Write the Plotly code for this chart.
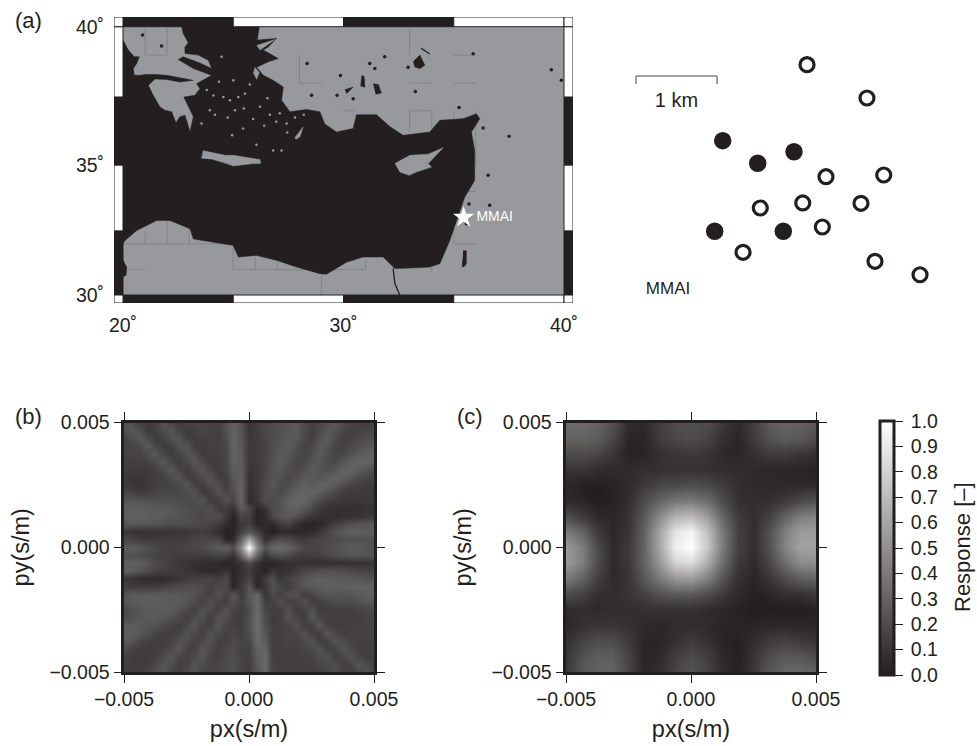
import math
import numpy as np
import plotly.graph_objects as go

INK = "#231f20"
LAND = "#98999c"
FONT = "Liberation Sans"

# ---------- map data (degrees) ----------
sea_lon = [20.00,20.24,20.51,20.74,20.62,20.47,20.51,20.77,21.00,21.45,21.98,22.58,23.19,22.58,21.98,21.45,21.15,21.37,21.68,21.90,22.21,22.40,22.58,22.81,23.04,23.19,22.92,22.76,23.26,23.49,23.34,24.02,23.19,22.51,22.73,23.49,24.02,23.87,23.41,22.81,22.81,22.96,22.73,22.66,26.18,26.09,26.96,26.59,26.36,27.04,26.59,26.06,26.36,26.81,27.27,27.19,27.57,28.32,28.93,29.15,29.68,30.44,30.59,31.50,32.10,32.70,33.91,34.37,35.42,36.03,36.18,35.80,35.95,35.95,35.50,35.05,34.82,34.37,33.91,33.01,32.33,31.80,30.89,30.14,29.23,28.93,27.87,26.96,26.06,25.23,25.00,23.19,23.04,22.13,21.53,20.62,20.09,20.00]
sea_lat = [39.53,39.18,38.94,38.94,38.70,38.52,38.28,38.28,38.31,38.31,38.28,38.19,38.10,38.04,38.13,38.15,37.92,37.56,37.14,37.02,36.96,36.56,36.78,36.84,36.23,36.78,37.26,37.50,37.56,37.80,37.98,38.28,38.52,38.84,38.94,38.72,38.52,38.82,39.00,39.06,39.29,39.44,39.76,40.00,40.00,39.53,39.59,39.29,39.18,38.88,38.76,38.57,38.28,38.10,37.86,37.38,36.96,37.05,36.96,36.52,36.22,36.35,36.85,36.85,36.42,36.10,36.22,36.65,36.71,36.89,36.71,36.22,35.54,34.42,33.79,32.64,32.13,31.23,31.10,31.06,31.04,31.49,31.49,31.29,30.82,30.84,31.10,31.36,31.55,31.49,31.94,32.19,32.58,32.90,32.90,32.51,32.13,32.00]

crete_lon = [23.56,23.64,24.62,25.00,26.21,26.24,25.91,25.00,24.70,24.09]
crete_lat = [35.24,35.53,35.36,35.36,35.20,35.05,35.05,34.96,35.05,35.20]
cyprus_lon = [32.33,33.01,33.84,34.52,33.84,33.99,33.31,32.98,32.55]
cyprus_lat = [35.05,35.36,35.40,35.64,35.05,34.92,34.74,34.61,34.74]
rhodes_lon = [27.79,28.17,28.02,27.84]
rhodes_lat = [36.01,36.41,36.04,35.95]
lesbos_lon = [25.98,26.18,26.06,25.91]
lesbos_lat = [38.57,38.38,38.14,38.38]
north_isle_lon = [26.06,26.89,26.51,26.21]
north_isle_lat = [39.34,39.55,39.34,39.18]

speck_lon = [25.48,25.08,24.55,24.85,24.47,25.45,24.17,26.66,27.11,26.81,27.19,25.23,27.42,23.94,23.56,26.21,25.53,24.10,24.75,25.90,26.40,26.95,27.45,27.80,28.20,25.00,25.75,26.55,24.35,23.80,24.95,26.05]
speck_lat = [37.08,37.02,37.50,37.38,38.94,36.35,36.85,36.85,36.91,35.54,35.54,37.50,36.53,37.02,36.53,37.15,37.62,37.55,36.75,36.70,36.45,36.60,36.20,36.75,36.85,38.10,37.95,37.45,38.05,37.75,36.10,35.75]

tuz_lon = [33.16,33.46,33.69,33.46,33.23]
tuz_lat = [38.76,39.00,38.64,38.52,38.58]
lake2_lon = [31.34,31.58,31.72,31.46]
lake2_lat = [37.98,37.95,37.64,37.60]
lake3_lon = [30.82,30.94,30.97,30.77]
lake3_lat = [38.27,38.24,37.85,37.90]
lake4_lon = [30.06,30.44,30.14]
lake4_lat = [37.76,37.86,37.62]
dead_lon = [35.42,35.57,35.57,35.45,35.38,35.42]
dead_lat = [31.73,31.73,31.22,31.10,31.12,31.49]
bump_lon = [20.00,20.17,20.14,20.00]
bump_lat = [31.36,31.10,30.78,30.72]

dot_lon = [21.75,20.89,28.35,29.86,31.19,31.42,31.87,35.88,39.43,39.88,35.24,36.33,37.51,36.56,36.63,35.69,35.57,33.26,28.55,30.44,29.71,32.93]
dot_lat = [39.32,39.71,38.70,38.27,38.70,38.52,38.94,39.05,38.48,38.10,37.12,36.37,36.07,34.61,33.48,33.53,32.77,37.70,37.56,37.44,37.56,38.57]

nile_lon = [32.25,32.33,32.55]
nile_lat = [31.04,30.45,30.00]
streak_lon = [33.52,33.91]
streak_lat = [39.24,39.04]

grid_segments = [
    (21,21,39,40),(22,22,39,40),(21,22,39,39),(33,33,39,40),(35,36,39,39),
    (28,28,38,39),(28,29,38,38),(33,34,38,38),(35,36,38,38),
    (30,30.6,37,37),(33,34,37,37),(33,33,36.2,37),(34,34,36.4,37),(35,35,36.7,37),(36,36,35,37),
    (35.6,36,34,34),(20,25,32,32),(35,36,32,32),(35,35,32,32.6),
    (21,21,32,32.5),(22,22,32,32.9),(23,23,32,32.6),(20.2,21,31,31),
    (25,25,31,32),(26,26,31,31.5),(27,27,31,31.3),(29,29,30,30.8),(31,31,31,31.4),(34,34,30.9,31.1),
    (25,31,31,31),
]

star_lon = [35.45]
star_lat = [33.02]
station_label = ["MMAI"]
label_lon = [36.03]
label_lat = [33.00]

lon_ticks = [20, 30, 40]
lat_ticks = [30, 35, 40]
lon_bars = [20, 25, 30, 35, 40]
lat_bars = [30, 32.5, 35, 37.5, 40]

# ---------- station array (km) ----------
open_x = [2.309,3.049,2.543,3.256,2.256,2.975,1.732,2.498,1.519,3.148,3.704]
open_y = [2.905,2.494,1.522,1.543,1.198,1.194,1.136,0.901,0.589,0.478,0.312]
solid_x = [1.268,2.148,1.700,1.169,2.016]
solid_y = [1.967,1.831,1.688,0.848,0.848]
scale_x = [0.198,0.198,1.198,1.198]
scale_y = [2.667,2.765,2.765,2.667]

# ---------- array responses (percent, top row first) ----------
slow_ticks = [-0.005, 0.0, 0.005]
slow_labels = ["\u22120.005", "0.000", "0.005"]

resp_b = [
[24,20,14,13,15,23,18,14,16,17,17,15,15,22,30,22,10,14,18,20,22,25,27,20,14,17,22,26,20,15,15,15,15],
[20,26,20,13,14,20,24,16,13,15,17,16,15,21,30,23,10,14,18,20,22,24,26,19,14,19,25,23,16,15,16,17,18],
[17,20,26,19,13,15,22,23,15,13,15,16,14,20,30,24,11,13,17,20,23,25,25,18,15,22,26,20,15,16,18,20,22],
[16,16,20,26,18,13,15,23,22,14,13,15,15,19,31,25,11,13,16,20,24,26,22,16,18,25,24,17,15,18,21,24,25],
[16,16,16,20,26,17,13,16,24,21,13,14,15,18,30,26,11,13,16,21,25,25,19,16,21,26,21,16,18,22,26,28,30],
[15,14,15,15,20,25,17,13,18,24,19,13,14,17,29,27,11,13,16,22,26,22,17,18,24,25,19,19,24,28,30,30,28],
[14,12,12,13,15,20,25,17,13,19,24,17,13,16,27,27,10,12,17,23,25,20,17,22,26,23,20,24,29,30,28,24,20],
[12,10,10,12,14,15,19,25,16,13,20,23,15,14,25,28,9,12,18,24,22,18,21,26,25,24,27,30,28,24,20,17,15],
[13,10,9,11,14,16,16,19,24,15,13,21,22,13,23,30,8,12,20,24,20,20,25,28,27,30,30,26,20,16,14,13,13],
[18,16,14,15,16,18,18,17,20,23,14,13,22,19,20,31,7,12,21,22,19,24,29,30,31,28,22,18,14,13,12,12,12],
[24,24,23,22,21,22,22,20,18,20,23,14,14,21,17,32,6,11,22,19,23,29,31,30,25,19,14,12,11,11,11,12,12],
[27,28,28,27,26,26,25,23,21,18,20,22,13,13,8,26,18,4,9,20,22,28,29,25,18,12,9,8,8,8,8,9,9],
[28,29,29,28,27,26,24,23,22,20,18,20,21,12,3,16,14,2,6,17,24,26,22,15,10,8,7,7,8,9,10,11,12],
[25,25,25,24,23,22,21,21,20,19,19,17,13,7,2,12,14,3,6,5,13,17,8,4,3,4,8,14,18,21,23,24,24],
[11,9,8,8,9,9,9,10,11,12,14,12,7,1,3,15,24,15,4,1,4,5,4,4,6,10,16,22,26,28,28,27,26],
[18,16,14,13,13,13,14,14,15,17,18,18,18,4,5,32,62,32,7,16,22,20,14,13,16,17,18,20,21,22,22,22,20],
[27,27,25,22,18,15,15,15,17,18,19,23,27,29,22,46,100,46,24,32,33,30,24,18,17,17,20,22,24,26,26,24,20],
[22,22,20,18,16,15,15,14,14,14,13,14,16,15,8,30,60,30,8,18,21,18,14,13,14,15,17,20,22,24,24,23,21],
[28,28,27,24,20,17,14,11,9,8,7,6,6,2,6,9,20,8,4,2,6,8,8,8,7,7,7,7,7,7,8,9,10],
[28,27,24,20,16,14,13,12,10,8,6,5,6,10,3,8,12,6,2,10,8,8,12,17,19,21,22,22,21,19,17,16,15],
[12,9,6,5,5,6,8,11,13,15,16,17,14,20,4,9,18,4,14,22,10,16,20,24,27,28,28,27,26,25,24,23,22],
[15,14,13,13,14,16,17,19,20,21,20,15,19,18,3,13,24,5,10,21,18,13,20,24,26,27,28,28,28,29,30,29,28],
[24,26,26,26,26,26,26,25,24,22,18,15,22,16,24,12,24,32,10,19,15,21,22,14,17,22,24,24,23,24,26,28,28],
[24,26,27,28,28,27,26,26,24,20,15,22,16,14,23,15,24,32,14,15,21,15,16,22,13,15,17,20,20,20,22,24,24],
[19,22,24,26,27,28,26,23,19,15,22,19,14,24,17,13,20,33,17,14,15,22,14,15,23,13,14,15,15,15,16,17,18],
[20,22,24,26,26,24,22,18,14,20,22,13,23,21,14,13,22,34,20,13,14,22,17,13,25,18,14,14,14,14,15,16,16],
[27,27,26,24,22,19,16,14,17,24,16,15,24,17,15,14,22,34,21,14,15,16,22,14,14,25,16,14,14,15,15,16,17],
[28,27,24,21,17,15,14,16,24,18,16,22,19,15,17,15,20,34,24,14,15,16,17,22,15,14,25,18,15,15,16,16,17],
[26,23,18,15,13,14,16,22,21,16,18,23,16,15,19,16,18,34,26,14,15,16,15,19,22,14,15,24,20,15,15,15,16],
[21,16,14,13,14,15,20,25,16,15,24,20,15,17,20,16,16,30,30,14,14,15,15,16,20,23,14,16,24,18,14,14,15],
[16,14,13,13,15,19,25,17,15,19,24,16,15,18,21,16,15,28,32,15,14,14,14,15,16,20,22,14,17,24,17,14,14],
[14,13,13,14,17,24,21,15,16,23,20,16,17,19,21,16,14,26,33,16,14,14,14,15,15,17,20,21,14,16,24,20,14],
[14,13,14,15,22,24,16,15,20,24,17,16,18,20,21,15,14,24,32,17,14,14,14,14,14,15,17,21,16,14,17,24,18],
]

resp_c = [
[33,33,30,22,5,5,15,20,22,20,12,5,15,27,30,30,25],
[30,30,27,18,3,3,13,18,20,17,8,3,13,22,27,25,20],
[20,20,18,10,2,3,8,10,12,10,5,3,8,13,13,10,8],
[10,10,7,6,5,7,8,9,9,8,7,6,5,4,3,3,2],
[4,1,0,2,6,12,17,18,20,18,13,7,5,5,5,4,5],
[5,3,0,2,7,20,30,38,40,34,20,8,7,8,12,18,22],
[20,13,5,3,10,26,48,66,70,56,32,12,7,15,30,42,45],
[40,30,13,4,10,30,60,88,95,72,40,15,7,22,42,55,55],
[55,42,20,5,12,30,62,93,100,76,41,15,7,22,45,58,58],
[55,42,20,5,12,30,54,80,85,64,35,12,5,17,35,48,50],
[40,30,15,5,10,25,40,53,55,43,24,8,3,10,20,27,30],
[20,15,8,6,10,15,22,25,25,20,12,5,1,3,7,8,12],
[5,7,5,7,7,8,8,8,8,6,4,2,0,0,0,0,2],
[4,8,10,10,8,5,4,6,7,5,3,3,3,4,4,4,3],
[8,15,20,20,12,3,3,8,12,8,3,1,7,13,15,12,10],
[10,22,28,27,15,3,5,14,20,14,5,1,10,20,25,25,20],
[12,25,30,30,17,3,7,17,23,17,6,1,12,25,32,33,30],
]

bar_ticks = [0.0,0.1,0.2,0.3,0.4,0.5,0.6,0.7,0.8,0.9,1.0]

# ---------- helpers ----------
def merc(lat):
    return np.degrees(np.log(np.tan(np.pi / 4 + np.radians(np.asarray(lat, dtype=float)) / 2)))

W, H = 977, 746
def dom_x(a, b):
    return [a / W, b / W]
def dom_y(top, bottom):
    return [1 - bottom / H, 1 - top / H]

fig = go.Figure()

def poly(lon, lat, color):
    fig.add_trace(go.Scatter(x=lon, y=merc(lat), mode="lines", fill="toself", fillcolor=color,
                             line=dict(width=0.5, color=color), hoverinfo="skip", showlegend=False))

# graticule remnants
gx, gy = [], []
for x0, x1, y0, y1 in grid_segments:
    gx += [x0, x1, None]
    gy += [float(merc(y0)), float(merc(y1)), None]
fig.add_trace(go.Scatter(x=gx, y=gy, mode="lines", line=dict(width=0.7, color="#7b7c7f"),
                         hoverinfo="skip", showlegend=False))
poly(sea_lon, sea_lat, INK)
for lo, la in [(crete_lon, crete_lat), (cyprus_lon, cyprus_lat), (rhodes_lon, rhodes_lat),
               (lesbos_lon, lesbos_lat), (north_isle_lon, north_isle_lat)]:
    poly(lo, la, LAND)
for lo, la in [(tuz_lon, tuz_lat), (lake2_lon, lake2_lat), (lake3_lon, lake3_lat),
               (lake4_lon, lake4_lat), (dead_lon, dead_lat), (bump_lon, bump_lat)]:
    poly(lo, la, INK)
fig.add_trace(go.Scatter(x=speck_lon, y=merc(speck_lat), mode="markers",
                         marker=dict(size=2.5, color=LAND), hoverinfo="skip", showlegend=False))
fig.add_trace(go.Scatter(x=dot_lon, y=merc(dot_lat), mode="markers",
                         marker=dict(size=3.5, color=INK), hoverinfo="skip", showlegend=False))
for lo, la in [(nile_lon, nile_lat), (streak_lon, streak_lat)]:
    fig.add_trace(go.Scatter(x=lo, y=merc(la), mode="lines", line=dict(width=1.3, color=INK),
                             hoverinfo="skip", showlegend=False))
fig.add_trace(go.Scatter(x=star_lon, y=merc(star_lat), mode="markers",
                         marker=dict(symbol="star", size=16, color="white", line=dict(width=0)),
                         hoverinfo="skip", showlegend=False))
fig.add_trace(go.Scatter(x=label_lon, y=merc(label_lat), mode="text", text=station_label,
                         textposition="middle right", textfont=dict(size=14, color="white", family=FONT),
                         hoverinfo="skip", showlegend=False))

# stations
fig.add_trace(go.Scatter(x=scale_x, y=scale_y, xaxis="x2", yaxis="y2", mode="lines",
                         line=dict(width=1, color="#444"), hoverinfo="skip", showlegend=False))
fig.add_trace(go.Scatter(x=open_x, y=open_y, xaxis="x2", yaxis="y2", mode="markers",
                         marker=dict(size=14, color="white", line=dict(width=3.2, color=INK)),
                         hoverinfo="skip", showlegend=False))
fig.add_trace(go.Scatter(x=solid_x, y=solid_y, xaxis="x2", yaxis="y2", mode="markers",
                         marker=dict(size=17.5, color=INK), hoverinfo="skip", showlegend=False))
fig.add_trace(go.Scatter(x=[0.698], y=[2.45], xaxis="x2", yaxis="y2", mode="text", text=["1 km"],
                         textfont=dict(size=20, color=INK, family=FONT), hoverinfo="skip", showlegend=False))
fig.add_trace(go.Scatter(x=[0.593], y=[0.125], xaxis="x2", yaxis="y2", mode="text", text=["MMAI"],
                         textfont=dict(size=17, color=INK, family=FONT), hoverinfo="skip", showlegend=False))

# responses
SCALE = [[0, INK], [1, "#ffffff"]]
zb = np.array(resp_b[::-1], dtype=float) / 100
zc = np.array(resp_c[::-1], dtype=float) / 100
xb = np.linspace(-0.005, 0.005, zb.shape[1])
xc = np.linspace(-0.005, 0.005, zc.shape[1])
fig.add_trace(go.Heatmap(z=zb, x=xb, y=xb, xaxis="x3", yaxis="y3", colorscale=SCALE, zmin=0, zmax=1,
                         zsmooth="best", showscale=False, hoverinfo="skip"))
fig.add_trace(go.Heatmap(z=zc, x=xc, y=xc, xaxis="x4", yaxis="y4", colorscale=SCALE, zmin=0, zmax=1,
                         zsmooth="best", hoverinfo="skip",
                         colorbar=dict(x=880 / W, xanchor="left", xpad=0, ypad=0,
                                       y=1 - 421 / H, yanchor="top", len=254, lenmode="pixels",
                                       thickness=14, thicknessmode="pixels",
                                       outlinewidth=3, outlinecolor=INK,
                                       tickmode="array", tickvals=bar_ticks,
                                       ticktext=["\u2009%.1f" % v for v in bar_ticks],
                                       ticks="outside", ticklen=8, tickwidth=1.2, tickcolor=INK,
                                       tickfont=dict(size=19.5, color=INK, family=FONT))))

# axes
xpp = 441 / 20
ypp = (295 - 26.7) / float(merc(40) - merc(30))
map_xr = [20 - 9 / xpp, 40 + 9 / xpp]
map_yr = [float(merc(30)) - 8 / ypp, float(merc(40)) + 9.7 / ypp]

tick_font = dict(size=19.5, color=INK, family=FONT)
title_font = dict(size=23.5, color=INK, family=FONT)

def slow_axis(domain, title, anchor, standoff):
    return dict(domain=domain, range=[-0.005, 0.005], tickmode="array", tickvals=slow_ticks,
                ticktext=slow_labels, ticks="outside", ticklen=7.5, tickwidth=1.2, tickcolor=INK,
                showline=True, linewidth=3, linecolor=INK, mirror="ticks", showgrid=False, zeroline=False,
                tickfont=tick_font, title=dict(text=title, font=title_font, standoff=standoff),
                anchor=anchor, automargin=True)

fig.update_layout(
    template="none",
    width=W, height=H, margin=dict(l=0, r=0, t=0, b=0, autoexpand=False), autosize=False,
    paper_bgcolor="white", plot_bgcolor="white", showlegend=False,
    font=dict(family=FONT, color=INK),
    xaxis=dict(domain=dom_x(114, 573), range=map_xr, tickmode="array", tickvals=lon_ticks,
               ticktext=["%d\u02da" % v for v in lon_ticks], ticks="outside", ticklen=5,
               tickcolor="rgba(0,0,0,0)", showgrid=False, zeroline=False, showline=False,
               tickfont=tick_font, anchor="y", automargin=False),
    yaxis=dict(domain=dom_y(17, 303), range=map_yr, tickmode="array", tickvals=[float(merc(v)) for v in lat_ticks],
               ticktext=["%d\u02da" % v for v in lat_ticks], ticks="outside", ticklen=5,
               tickcolor="rgba(0,0,0,0)", showgrid=False, zeroline=False, showline=False,
               tickfont=tick_font, anchor="x", automargin=False),
    xaxis2=dict(domain=dom_x(620, 940), range=[0, 320 / 81], visible=False, anchor="y2"),
    yaxis2=dict(domain=dom_y(50, 300), range=[0, 250 / 81], visible=False, anchor="x2"),
    xaxis3=slow_axis(dom_x(124, 374), "px(s/m)", "y3", 12),
    yaxis3=slow_axis(dom_y(422.5, 672), "py(s/m)", "x3", 14),
    xaxis4=slow_axis(dom_x(566, 816), "px(s/m)", "y4", 12),
    yaxis4=slow_axis(dom_y(422.5, 672), "py(s/m)", "x4", 14),
)

# land background and fancy frame
shapes = [dict(type="rect", xref="x", yref="y", x0=20, x1=40, y0=float(merc(30)), y1=float(merc(40)),
               fillcolor=LAND, line=dict(width=0), layer="below")]
ln = dict(width=1, color=INK)
def rect(x0, x1, y0, y1, fill):
    shapes.append(dict(type="rect", xref="x", yref="y", x0=x0, x1=x1, y0=y0, y1=y1,
                       fillcolor=fill, line=ln, layer="above"))
m_bars = [float(merc(v)) for v in lat_bars]
for k in range(4):
    fill = INK if k % 2 == 0 else "white"
    rect(lon_bars[k], lon_bars[k + 1], m_bars[0], map_yr[0], fill)
    rect(lon_bars[k], lon_bars[k + 1], m_bars[-1], map_yr[1], fill)
    rect(map_xr[0], 20, m_bars[k], m_bars[k + 1], fill)
    rect(40, map_xr[1], m_bars[k], m_bars[k + 1], fill)
for cx in (map_xr[0], 40):
    for cy in (map_yr[0], m_bars[-1]):
        wid = 20 - map_xr[0]
        hgt = (m_bars[0] - map_yr[0]) if cy == map_yr[0] else (map_yr[1] - m_bars[-1])
        rect(cx, cx + wid, cy, cy + hgt, "white")
fig.update_layout(shapes=shapes)

for txt, px, py in [("(a)", 28, 20), ("(b)", 28, 416), ("(c)", 470, 416)]:
    fig.add_annotation(text=txt, x=px / W, y=1 - py / H, xref="paper", yref="paper", showarrow=False,
                       xanchor="center", yanchor="middle", font=dict(size=22, color=INK, family=FONT))
fig.add_annotation(text="Response [\u2013]", x=962 / W, y=1 - 547 / H, xref="paper", yref="paper",
                   showarrow=False, textangle=-90, xanchor="center", yanchor="middle",
                   font=dict(size=22, color=INK, family=FONT))

fig.write_html("out.html", post_script="document.body.style.margin='0';", config={"displayModeBar": False})
